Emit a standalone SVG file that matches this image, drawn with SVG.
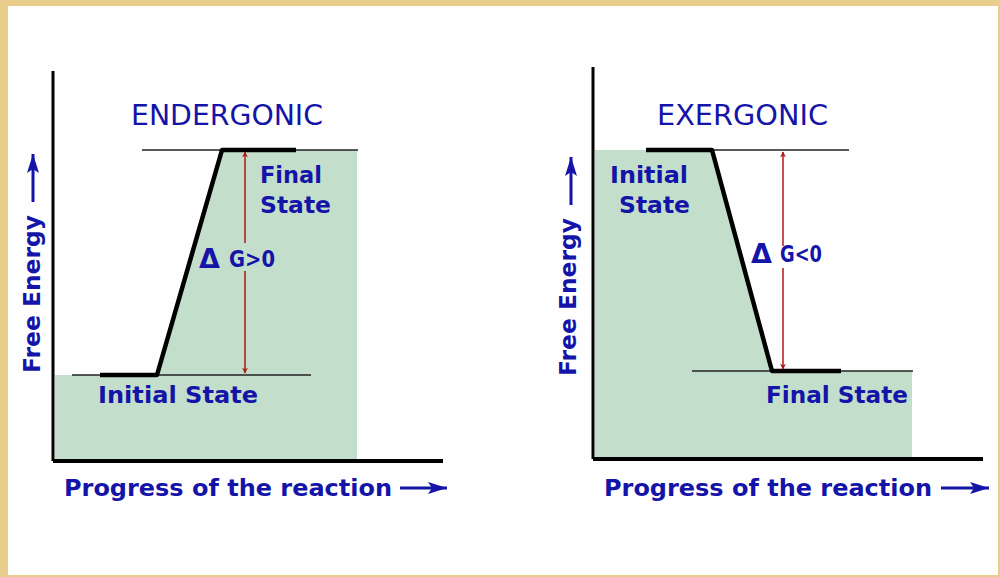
<svg xmlns="http://www.w3.org/2000/svg" width="1000" height="577" viewBox="0 0 1000 577">
<defs>
<style>
.txt{font-family:"DejaVu Sans","Liberation Sans",sans-serif;fill:#1414a8;}
.title{font-size:29px;}
.lbl{font-size:23px;font-weight:bold;}
.axis{stroke:#000;stroke-width:3;fill:none;}
.xaxis{stroke:#000;stroke-width:4;fill:none;}
.thin{stroke:#222;stroke-width:1.5;fill:none;}
.thick{stroke:#000;stroke-width:4.5;fill:none;stroke-linejoin:round;}
.fill{fill:#c3dfcb;}
.red{stroke:#b01818;stroke-width:1.5;fill:none;}
.blue{stroke:#1414a8;stroke-width:3;fill:none;}
</style>
<marker id="redhead" viewBox="0 0 10 10" refX="9" refY="5" markerWidth="4" markerHeight="5" markerUnits="strokeWidth" orient="auto-start-reverse">
<path d="M0,0 L10,5 L0,10 L3,5 Z" fill="#b01818"/>
</marker>
<marker id="bluehead" viewBox="0 0 20 14" refX="19" refY="7" markerWidth="20" markerHeight="14" markerUnits="userSpaceOnUse" orient="auto">
<path d="M0,1 L4,7 L0,13 L19,7 Z" fill="#1414a8"/>
</marker>
</defs>
<rect x="0" y="0" width="1000" height="577" fill="#e8cd8c"/>
<rect x="8" y="6" width="990" height="569" fill="#fefefe"/>

<g id="endergonic">
<polygon class="fill" points="55,375 157,375 222,150 357,150 357,460 55,460"/>
<line class="axis" x1="53" y1="71" x2="53" y2="461"/>
<line class="xaxis" x1="53" y1="461" x2="443" y2="461"/>
<line class="thin" x1="142" y1="150" x2="358" y2="150"/>
<line class="thin" x1="72" y1="375" x2="311" y2="375"/>
<polyline class="thick" points="100,375 157,375 222,150 296,150"/>
<text class="txt title" x="131" y="125" textLength="192" lengthAdjust="spacingAndGlyphs">ENDERGONIC</text>
<text class="txt lbl" x="260" y="183" textLength="62" lengthAdjust="spacingAndGlyphs">Final</text>
<text class="txt lbl" x="260" y="213" textLength="71" lengthAdjust="spacingAndGlyphs">State</text>
<text class="txt lbl" x="98" y="403" textLength="160" lengthAdjust="spacingAndGlyphs">Initial State</text>
<text class="txt lbl" x="64" y="496" textLength="328" lengthAdjust="spacingAndGlyphs">Progress of the reaction</text>
<text class="txt lbl" transform="translate(40,373) rotate(-90)" x="0" y="0" textLength="158" lengthAdjust="spacingAndGlyphs">Free Energy</text>
<text class="txt" x="199" y="268" font-size="27" font-weight="bold">Δ</text>
<text class="txt lbl" x="229" y="267" textLength="46" lengthAdjust="spacingAndGlyphs">G&gt;0</text>
</g>

<g id="exergonic">
<polygon class="fill" points="595,150 712,150 772,371 912,371 912,458 595,458"/>
<line class="axis" x1="593" y1="67" x2="593" y2="459"/>
<line class="xaxis" x1="593" y1="459" x2="983" y2="459"/>
<line class="thin" x1="711" y1="150" x2="849" y2="150"/>
<line class="thin" x1="692" y1="371" x2="913" y2="371"/>
<polyline class="thick" points="646,150 712,150 772,371 841,371"/>
<text class="txt title" x="657" y="125" textLength="171" lengthAdjust="spacingAndGlyphs">EXERGONIC</text>
<text class="txt lbl" x="610" y="183" textLength="78" lengthAdjust="spacingAndGlyphs">Initial</text>
<text class="txt lbl" x="619" y="213" textLength="71" lengthAdjust="spacingAndGlyphs">State</text>
<text class="txt lbl" x="766" y="403" textLength="142" lengthAdjust="spacingAndGlyphs">Final State</text>
<text class="txt lbl" x="604" y="496" textLength="328" lengthAdjust="spacingAndGlyphs">Progress of the reaction</text>
<text class="txt lbl" transform="translate(576,376) rotate(-90)" x="0" y="0" textLength="158" lengthAdjust="spacingAndGlyphs">Free Energy</text>
<text class="txt" x="751" y="263" font-size="27" font-weight="bold">Δ</text>
<text class="txt lbl" x="780" y="262" textLength="42" lengthAdjust="spacingAndGlyphs">G&lt;0</text>
</g>

<g id="connectors">
<line class="red" x1="245" y1="243" x2="245" y2="152" marker-end="url(#redhead)"/>
<line class="red" x1="245" y1="271" x2="245" y2="373" marker-end="url(#redhead)"/>
<line class="red" x1="783" y1="246" x2="783" y2="152" marker-end="url(#redhead)"/>
<line class="red" x1="783" y1="268" x2="783" y2="369" marker-end="url(#redhead)"/>
<line class="blue" x1="400" y1="488" x2="447" y2="488" marker-end="url(#bluehead)"/>
<line class="blue" x1="941" y1="488" x2="989" y2="488" marker-end="url(#bluehead)"/>
<line class="blue" x1="33" y1="202" x2="33" y2="154" marker-end="url(#bluehead)"/>
<line class="blue" x1="571" y1="205" x2="571" y2="157" marker-end="url(#bluehead)"/>
</g>
</svg>
